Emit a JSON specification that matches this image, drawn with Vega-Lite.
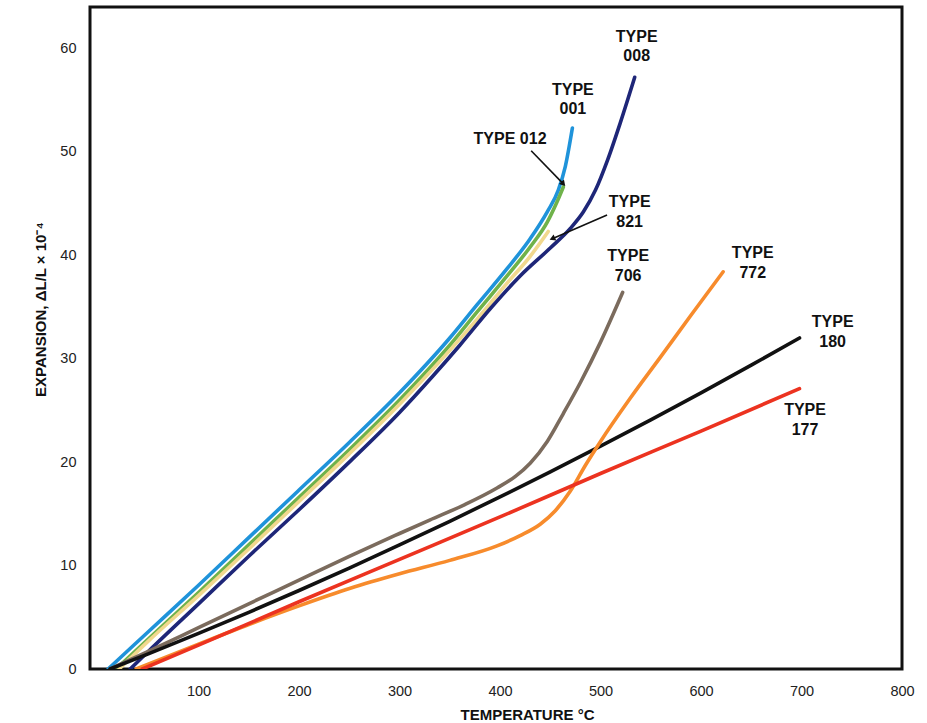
{
  "$schema": "https://vega.github.io/schema/vega-lite/v6.json",
  "width": 812,
  "height": 662,
  "autosize": {"type": "none"},
  "padding": {"left": 90, "top": 7, "right": 25, "bottom": 54},
  "background": "white",
  "config": {
    "view": {"stroke": "#111111", "strokeWidth": 3},
    "font": "Liberation Sans",
    "axis": {"grid": false, "ticks": false, "domain": false, "labelFlush": false, "labelFont": "Liberation Sans", "labelFontSize": 14.5, "labelColor": "#222222", "titleFont": "Liberation Sans", "titleFontSize": 15, "titleFontWeight": "bold", "titleColor": "#111111"}
  },
  "datasets": {
    "curves": [
      {"type": "001", "t": 10, "e": 0}, {"type": "001", "t": 50, "e": 3.6}, {"type": "001", "t": 100, "e": 8.1}, {"type": "001", "t": 150, "e": 12.7}, {"type": "001", "t": 200, "e": 17.3}, {"type": "001", "t": 250, "e": 21.9}, {"type": "001", "t": 300, "e": 26.7}, {"type": "001", "t": 350, "e": 32.0}, {"type": "001", "t": 377, "e": 35.2}, {"type": "001", "t": 407, "e": 38.7}, {"type": "001", "t": 430, "e": 41.6}, {"type": "001", "t": 447, "e": 44.2}, {"type": "001", "t": 458, "e": 46.3}, {"type": "001", "t": 465, "e": 48.6}, {"type": "001", "t": 472, "e": 52.3},
      {"type": "012", "t": 18, "e": 0}, {"type": "012", "t": 50, "e": 2.9}, {"type": "012", "t": 100, "e": 7.4}, {"type": "012", "t": 150, "e": 12.0}, {"type": "012", "t": 200, "e": 16.6}, {"type": "012", "t": 250, "e": 21.2}, {"type": "012", "t": 300, "e": 26.0}, {"type": "012", "t": 350, "e": 31.3}, {"type": "012", "t": 377, "e": 34.5}, {"type": "012", "t": 407, "e": 38.0}, {"type": "012", "t": 430, "e": 40.8}, {"type": "012", "t": 447, "e": 43.2}, {"type": "012", "t": 456, "e": 45.0}, {"type": "012", "t": 463, "e": 46.6},
      {"type": "821", "t": 21, "e": 0}, {"type": "821", "t": 50, "e": 2.7}, {"type": "821", "t": 100, "e": 7.1}, {"type": "821", "t": 150, "e": 11.6}, {"type": "821", "t": 200, "e": 16.2}, {"type": "821", "t": 250, "e": 20.8}, {"type": "821", "t": 300, "e": 25.6}, {"type": "821", "t": 350, "e": 30.8}, {"type": "821", "t": 377, "e": 33.8}, {"type": "821", "t": 407, "e": 37.3}, {"type": "821", "t": 430, "e": 39.9}, {"type": "821", "t": 448, "e": 42.3},
      {"type": "008", "t": 32, "e": 0}, {"type": "008", "t": 50, "e": 1.7}, {"type": "008", "t": 100, "e": 6.3}, {"type": "008", "t": 150, "e": 10.9}, {"type": "008", "t": 200, "e": 15.4}, {"type": "008", "t": 250, "e": 20.0}, {"type": "008", "t": 300, "e": 24.8}, {"type": "008", "t": 333, "e": 28.3}, {"type": "008", "t": 360, "e": 31.3}, {"type": "008", "t": 390, "e": 34.8}, {"type": "008", "t": 420, "e": 38.0}, {"type": "008", "t": 450, "e": 40.7}, {"type": "008", "t": 470, "e": 42.6}, {"type": "008", "t": 483, "e": 44.2}, {"type": "008", "t": 495, "e": 46.3}, {"type": "008", "t": 507, "e": 49.2}, {"type": "008", "t": 520, "e": 52.9}, {"type": "008", "t": 534, "e": 57.2},
      {"type": "706", "t": 12, "e": 0}, {"type": "706", "t": 50, "e": 1.7}, {"type": "706", "t": 100, "e": 4.0}, {"type": "706", "t": 150, "e": 6.3}, {"type": "706", "t": 200, "e": 8.6}, {"type": "706", "t": 250, "e": 10.9}, {"type": "706", "t": 300, "e": 13.1}, {"type": "706", "t": 330, "e": 14.4}, {"type": "706", "t": 365, "e": 15.9}, {"type": "706", "t": 397, "e": 17.5}, {"type": "706", "t": 415, "e": 18.6}, {"type": "706", "t": 430, "e": 19.9}, {"type": "706", "t": 447, "e": 22.0}, {"type": "706", "t": 463, "e": 24.7}, {"type": "706", "t": 480, "e": 27.7}, {"type": "706", "t": 500, "e": 31.6}, {"type": "706", "t": 522, "e": 36.4},
      {"type": "180", "t": 12, "e": 0}, {"type": "180", "t": 50, "e": 1.46}, {"type": "180", "t": 100, "e": 3.44}, {"type": "180", "t": 150, "e": 5.48}, {"type": "180", "t": 200, "e": 7.59}, {"type": "180", "t": 250, "e": 9.76}, {"type": "180", "t": 300, "e": 11.99}, {"type": "180", "t": 350, "e": 14.28}, {"type": "180", "t": 400, "e": 16.64}, {"type": "180", "t": 450, "e": 19.06}, {"type": "180", "t": 500, "e": 21.55}, {"type": "180", "t": 550, "e": 24.09}, {"type": "180", "t": 600, "e": 26.7}, {"type": "180", "t": 650, "e": 29.38}, {"type": "180", "t": 698, "e": 32.0},
      {"type": "772", "t": 38, "e": 0}, {"type": "772", "t": 100, "e": 2.4}, {"type": "772", "t": 150, "e": 4.3}, {"type": "772", "t": 200, "e": 6.1}, {"type": "772", "t": 251, "e": 7.8}, {"type": "772", "t": 300, "e": 9.2}, {"type": "772", "t": 350, "e": 10.5}, {"type": "772", "t": 397, "e": 11.9}, {"type": "772", "t": 420, "e": 12.9}, {"type": "772", "t": 440, "e": 14.0}, {"type": "772", "t": 455, "e": 15.3}, {"type": "772", "t": 470, "e": 17.2}, {"type": "772", "t": 485, "e": 19.7}, {"type": "772", "t": 500, "e": 22.0}, {"type": "772", "t": 529, "e": 26.1}, {"type": "772", "t": 560, "e": 30.2}, {"type": "772", "t": 590, "e": 34.2}, {"type": "772", "t": 622, "e": 38.4},
      {"type": "177", "t": 44, "e": 0}, {"type": "177", "t": 100, "e": 2.3}, {"type": "177", "t": 200, "e": 6.5}, {"type": "177", "t": 300, "e": 10.6}, {"type": "177", "t": 400, "e": 14.7}, {"type": "177", "t": 500, "e": 18.9}, {"type": "177", "t": 600, "e": 23.0}, {"type": "177", "t": 698, "e": 27.1}
    ],
    "labels": [
      {"label": "TYPE\n008", "t": 536, "e": 61.1},
      {"label": "TYPE\n001", "t": 472.5, "e": 56.0},
      {"label": "TYPE 012", "t": 410, "e": 51.2},
      {"label": "TYPE\n821", "t": 529, "e": 45.1},
      {"label": "TYPE\n706", "t": 527.5, "e": 39.9},
      {"label": "TYPE\n772", "t": 651.5, "e": 40.2},
      {"label": "TYPE\n180", "t": 731, "e": 33.5},
      {"label": "TYPE\n177", "t": 703.5, "e": 25.0}
    ],
    "leaders": [
      {"t": 431, "e": 50.1, "t2": 463, "e2": 46.9, "ang": 48.5},
      {"t": 506.5, "e": 43.9, "t2": 452, "e2": 41.6, "ang": 156.4}
    ]
  },
  "layer": [
    {
      "data": {"name": "curves"},
      "mark": {"type": "line", "interpolate": "monotone", "strokeWidth": 3.6, "strokeCap": "round", "clip": true},
      "encoding": {
        "x": {"field": "t", "type": "quantitative", "scale": {"domain": [-8, 800], "nice": false, "zero": false}, "axis": {"values": [100, 200, 300, 400, 500, 600, 700, 800], "labelPadding": 15, "title": "TEMPERATURE °C", "titleX": 437, "titleY": 45, "titleBaseline": "middle", "titleAnchor": null}},
        "y": {"field": "e", "type": "quantitative", "scale": {"domain": [0, 64], "nice": false}, "axis": {"values": [0, 10, 20, 30, 40, 50, 60], "labelPadding": 14, "title": "EXPANSION, ΔL/L × 10⁻⁴", "titleX": -50, "titleY": 302, "titleBaseline": "middle", "titleAlign": "center", "titleAngle": -90}},
        "color": {"field": "type", "type": "nominal", "legend": null, "scale": {"domain": ["001", "012", "821", "008", "706", "180", "772", "177"], "range": ["#1f93da", "#6fb24a", "#f1d88e", "#1e2678", "#7b6b5d", "#111111", "#f78b2c", "#ec3320"]}},
        "order": {"field": "t", "type": "quantitative"}
      }
    },
    {
      "data": {"name": "leaders"},
      "mark": {"type": "rule", "strokeWidth": 1.6, "color": "#111111"},
      "encoding": {
        "x": {"field": "t", "type": "quantitative"},
        "y": {"field": "e", "type": "quantitative"},
        "x2": {"field": "t2"},
        "y2": {"field": "e2"}
      }
    },
    {
      "data": {"name": "leaders"},
      "mark": {"type": "point", "shape": "triangle-right", "filled": true, "size": 45, "color": "#111111", "opacity": 1},
      "encoding": {
        "x": {"field": "t2", "type": "quantitative"},
        "y": {"field": "e2", "type": "quantitative"},
        "angle": {"field": "ang", "type": "quantitative", "scale": null}
      }
    },
    {
      "data": {"name": "labels"},
      "mark": {"type": "text", "font": "Liberation Sans", "fontWeight": "bold", "fontSize": 16, "color": "#111111", "align": "center", "baseline": "middle", "lineBreak": "\n", "lineHeight": 19.5},
      "encoding": {
        "x": {"field": "t", "type": "quantitative"},
        "y": {"field": "e", "type": "quantitative"},
        "text": {"field": "label", "type": "nominal"}
      }
    }
  ]
}
